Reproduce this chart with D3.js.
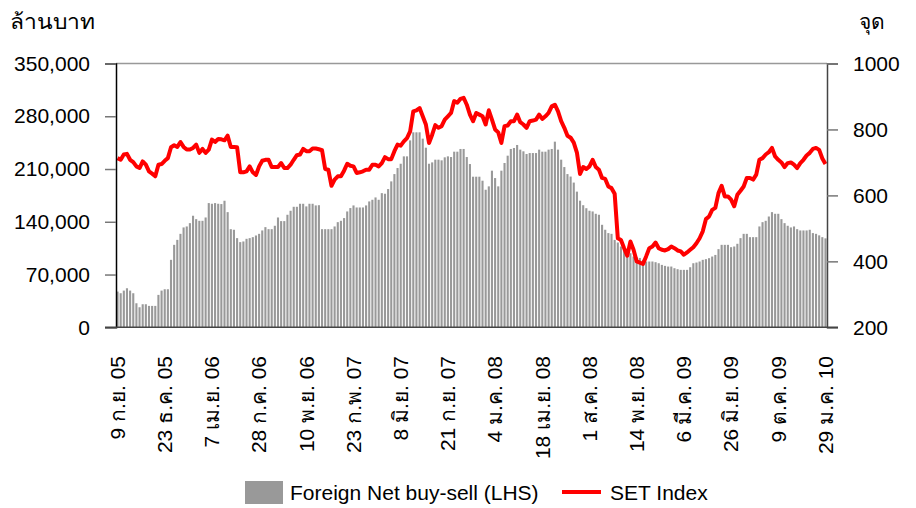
<!DOCTYPE html>
<html lang="th">
<head>
	<meta charset="UTF-8">
	<title>foreign flow vs SET</title>
	<script src="https://d3js.org/d3.v7.min.js"></script>
	<style>
		body {
			margin: 0;
			background: #fff;
		}
		svg {
			display: block;
			font-family: "Liberation Sans", Arial, sans-serif;
		}
		.tick-lab {
			font-size: 21px;
			fill: #000;
		}
	</style>
</head>
<body>
<div id="viz"></div>
<script>
	// weekly foreign net buy-sell (baht mn, cumulative) and SET index
	var foreignNet = [
		47400, 45200, 48700, 51800, 48700, 45200, 31900, 26600, 30600, 30600,
		28400, 28400, 28400, 43000, 48700, 50500, 50500, 89500, 109400, 116000,
		124000, 132500, 133800, 138200, 148000, 143500, 141300, 141300, 145700, 164800,
		163900, 164800, 163900, 163500, 167900, 152800, 130200, 129400, 118300, 113000,
		113900, 117400, 118300, 119600, 121800, 124000, 128500, 132900, 130200, 130200,
		134700, 145700, 140900, 140900, 149300, 154600, 159900, 159900, 163900, 163900,
		160400, 163900, 163900, 161700, 162000, 130200, 130200, 130200, 130200, 133800,
		139500, 141300, 144900, 153700, 158200, 161700, 159000, 159000, 159000, 161700,
		167000, 169200, 172300, 169200, 178000, 177200, 183400, 193600, 203300, 211300,
		217000, 226800, 226800, 248000, 258700, 258700, 258700, 250300, 238300, 217000,
		218800, 222400, 222400, 221500, 225500, 226800, 225900, 233000, 233000, 236600,
		236600, 225900, 216600, 199800, 199800, 199800, 194500, 182500, 187000, 207800,
		198000, 187000, 207800, 218000, 227700, 236600, 237900, 241900, 235700, 233500,
		229900, 231200, 231200, 231200, 235700, 233000, 233000, 235700, 236600, 246300,
		235700, 222400, 212600, 203300, 200000, 192000, 180000, 168000, 162000, 158000,
		154600, 153700, 150600, 149300, 136000, 129400, 125000, 124000, 116000, 112500,
		107200, 102800, 99200, 98300, 93900, 93000, 92000, 89500, 87300, 87300,
		87300, 86400, 85000, 82800, 81500, 80600, 80600, 78400, 77100, 76200,
		76200, 76200, 79700, 85000, 85900, 87300, 89500, 90400, 91700, 93900,
		96000, 103700, 109400, 109400, 109400, 106300, 107200, 110800, 118300, 124000,
		124000, 119600, 119600, 119600, 133800, 139500, 141300, 147000, 152800, 150600,
		150600, 143500, 138200, 134700, 132500, 133800, 130200, 128500, 128500, 128500,
		129400, 125000, 124000, 122000, 119600, 118000
	];

	var setIndex = [
		713, 708, 724, 726, 708, 701, 688, 683, 703, 693,
		673, 666, 658, 693, 695, 705, 713, 746, 752, 747,
		762, 747, 739, 739, 744, 754, 729, 741, 729, 739,
		769, 762, 771, 770, 767, 781, 747, 747, 746, 670,
		670, 673, 688, 670, 662, 688, 705, 708, 708, 686,
		686, 686, 698, 683, 683, 693, 708, 722, 724, 741,
		734, 734, 742, 742, 740, 737, 680, 678, 629, 648,
		658, 658, 675, 696, 690, 688, 668, 670, 673, 678,
		678, 693, 693, 688, 698, 716, 710, 710, 734, 754,
		751, 764, 774, 794, 855, 858, 865, 840, 815, 759,
		784, 813, 805, 810, 830, 840, 850, 886, 881, 893,
		896, 875, 845, 825, 850, 845, 840, 815, 858, 830,
		800, 791, 759, 810, 812, 825, 825, 845, 822, 815,
		805, 825, 827, 830, 845, 832, 840, 850, 870, 875,
		855, 825, 805, 781, 775, 760, 730, 665, 686, 680,
		688, 708, 686, 678, 653, 650, 627, 622, 605, 470,
		465, 440, 417, 460, 435, 400, 396, 392, 415, 440,
		445, 457, 440, 435, 433, 437, 445, 440, 433, 430,
		420, 427, 435, 443, 455, 470, 491, 528, 536, 556,
		562, 607, 629, 597, 597, 587, 567, 602, 614, 627,
		653, 653, 648, 663, 708, 713, 724, 731, 744, 718,
		708, 700, 686, 698, 700, 693, 683, 698, 708, 721,
		729, 741, 744, 738, 712, 695
	];

	// every 15th week gets a label
	var tickWeeks = [0, 15, 30, 45, 60, 75, 90, 105, 120, 135, 150, 165, 180, 195, 210, 225];
	var tickLabels = [
		"9 ก.ย. 05", "23 ธ.ค. 05", "7 เม.ย. 06", "28 ก.ค. 06", "10 พ.ย. 06",
		"23 ก.พ. 07", "8 มิ.ย. 07", "21 ก.ย. 07", "4 ม.ค. 08", "18 เม.ย. 08",
		"1 ส.ค. 08", "14 พ.ย. 08", "6 มี.ค. 09", "26 มิ.ย. 09", "9 ต.ค. 09",
		"29 ม.ค. 10"
	];
	var leftTicks = [0, 70000, 140000, 210000, 280000, 350000];
	var rightTicks = [200, 400, 600, 800, 1000];

	var width = 916, height = 508;
	var plot = {left: 116, right: 827, top: 63.5, bottom: 327.3};

	var svg = d3.select('#viz').append('svg')
		.attr('width', width)
		.attr('height', height);

	var weeks = d3.range(foreignNet.length);

	var x = d3.scaleBand()
		.domain(weeks)
		.range([plot.left, plot.right])
		.paddingInner(0.33)
		.paddingOuter(0.15);

	var yL = d3.scaleLinear().domain([0, 350000]).range([plot.bottom, plot.top]);
	var yR = d3.scaleLinear().domain([200, 1000]).range([plot.bottom, plot.top]);

	// top border of plot area
	svg.append('line')
		.attr('x1', plot.left).attr('x2', plot.right)
		.attr('y1', plot.top).attr('y2', plot.top)
		.attr('stroke', '#999').attr('stroke-width', 1.5);

	svg.append('g')
		.selectAll('rect')
		.data(foreignNet)
		.enter().append('rect')
		.attr('x', function (d, i) { return x(i); })
		.attr('width', x.bandwidth())
		.attr('y', function (d) { return yL(d); })
		.attr('height', function (d) { return plot.bottom - yL(d); })
		.attr('fill', '#999999');

	var line = d3.line()
		.x(function (d, i) { return x(i) + x.bandwidth() / 2; })
		.y(function (d) { return yR(d); });

	svg.append('path')
		.datum(setIndex)
		.attr('d', line)
		.attr('fill', 'none')
		.attr('stroke', '#ff0000')
		.attr('stroke-width', 4)
		.attr('stroke-linejoin', 'round');

	// left axis
	var axL = svg.append('g')
		.attr('transform', 'translate(' + plot.left + ',0)')
		.call(d3.axisLeft(yL).tickValues(leftTicks).tickFormat(d3.format(',')).tickSize(11).tickPadding(15));
	axL.select('.domain').attr('stroke', '#000').attr('stroke-width', 1.5);
	axL.selectAll('.tick line').attr('stroke', '#777').attr('stroke-width', 1.5);
	axL.selectAll('.tick text').attr('class', 'tick-lab');

	// right axis
	var axR = svg.append('g')
		.attr('transform', 'translate(' + plot.right + ',0)')
		.call(d3.axisRight(yR).tickValues(rightTicks).tickFormat(d3.format('d')).tickSize(11).tickPadding(15));
	axR.select('.domain').attr('stroke', '#444').attr('stroke-width', 1.5);
	axR.selectAll('.tick line').attr('stroke', '#777').attr('stroke-width', 1.5);
	axR.selectAll('.tick text').attr('class', 'tick-lab');
	axL.attr('font-family', null).attr('font-size', null);
	axR.attr('font-family', null).attr('font-size', null);

	// bottom baseline
	svg.append('line')
		.attr('x1', plot.left - 11).attr('x2', plot.right + 11)
		.attr('y1', plot.bottom).attr('y2', plot.bottom)
		.attr('stroke', '#444').attr('stroke-width', 1.5);

	// rotated week labels
	svg.append('g')
		.selectAll('text')
		.data(tickWeeks)
		.enter().append('text')
		.attr('class', 'tick-lab')
		.attr('transform', function (d) {
			return 'translate(' + (x(d) + x.bandwidth() / 2) + ',356) rotate(-90)';
		})
		.attr('dy', '0.35em')
		.attr('text-anchor', 'end')
		.text(function (d, i) { return tickLabels[i]; });

	// axis titles
	svg.append('text').attr('class', 'tick-lab')
		.attr('x', 10).attr('y', 29)
		.attr('textLength', 85).attr('lengthAdjust', 'spacingAndGlyphs')
		.text('ล้านบาท');
	svg.append('text').attr('class', 'tick-lab')
		.attr('x', 885).attr('y', 29).attr('text-anchor', 'end').text('จุด');

	// legend
	var lg = svg.append('g');
	lg.append('rect')
		.attr('x', 245).attr('y', 481).attr('width', 38).attr('height', 23)
		.attr('fill', '#999999');
	lg.append('text').attr('class', 'tick-lab')
		.attr('x', 290).attr('y', 500).text('Foreign Net buy-sell (LHS)');
	lg.append('line')
		.attr('x1', 562).attr('x2', 601).attr('y1', 492).attr('y2', 492)
		.attr('stroke', '#ff0000').attr('stroke-width', 4);
	lg.append('text').attr('class', 'tick-lab')
		.attr('x', 610).attr('y', 500).text('SET Index');
</script>
</body>
</html>
